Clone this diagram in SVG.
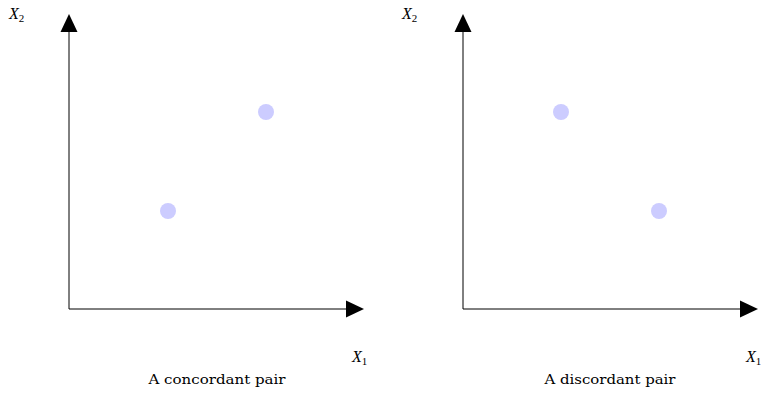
<svg xmlns="http://www.w3.org/2000/svg" width="764" height="393" viewBox="0 0 764 393">
<style>
.ax{stroke:#000;stroke-width:1;fill:none}
.ah{fill:#000}
.pt{fill:#ccccff}
.lbl{font-family:"Liberation Serif","DejaVu Serif",serif;font-style:italic;font-size:16px;fill:#000}
.sub{font-family:"Liberation Serif","DejaVu Serif",serif;font-style:normal;font-size:11px;fill:#000}
.cap{font-family:"DejaVu Serif","Liberation Serif",serif;font-size:13px;fill:#000}
</style>
<rect width="764" height="393" fill="#fff"/>
<g id="connectors">
<line class="ax" x1="69" y1="309" x2="69" y2="30"/>
<polygon class="ah" points="69,14 60.5,32 77.5,32"/>
<line class="ax" x1="69" y1="309" x2="348" y2="309"/>
<polygon class="ah" points="364,309 346,300.5 346,317.5"/>
<line class="ax" x1="463" y1="309" x2="463" y2="30"/>
<polygon class="ah" points="463,14 454.5,32 471.5,32"/>
<line class="ax" x1="463" y1="309" x2="742" y2="309"/>
<polygon class="ah" points="758,309 740,300.5 740,317.5"/>
</g>
<g id="p1a"><circle class="pt" cx="168" cy="211" r="8"/></g>
<g id="p1b"><circle class="pt" cx="266" cy="112" r="8"/></g>
<g id="p2a"><circle class="pt" cx="561" cy="112" r="8"/></g>
<g id="p2b"><circle class="pt" cx="659" cy="211" r="8"/></g>
<g id="x2-left"><text class="lbl" x="9" y="19">X<tspan class="sub" dy="3">2</tspan></text></g>
<g id="x1-left"><text class="lbl" x="352" y="362">X<tspan class="sub" dy="3">1</tspan></text></g>
<g id="x2-right"><text class="lbl" x="402" y="19">X<tspan class="sub" dy="3">2</tspan></text></g>
<g id="x1-right"><text class="lbl" x="746" y="362">X<tspan class="sub" dy="3">1</tspan></text></g>
<g id="cap-left"><text class="cap" x="217" y="384" text-anchor="middle" textLength="137" lengthAdjust="spacingAndGlyphs">A concordant pair</text></g>
<g id="cap-right"><text class="cap" x="610" y="384" text-anchor="middle" textLength="131" lengthAdjust="spacingAndGlyphs">A discordant pair</text></g>
</svg>
